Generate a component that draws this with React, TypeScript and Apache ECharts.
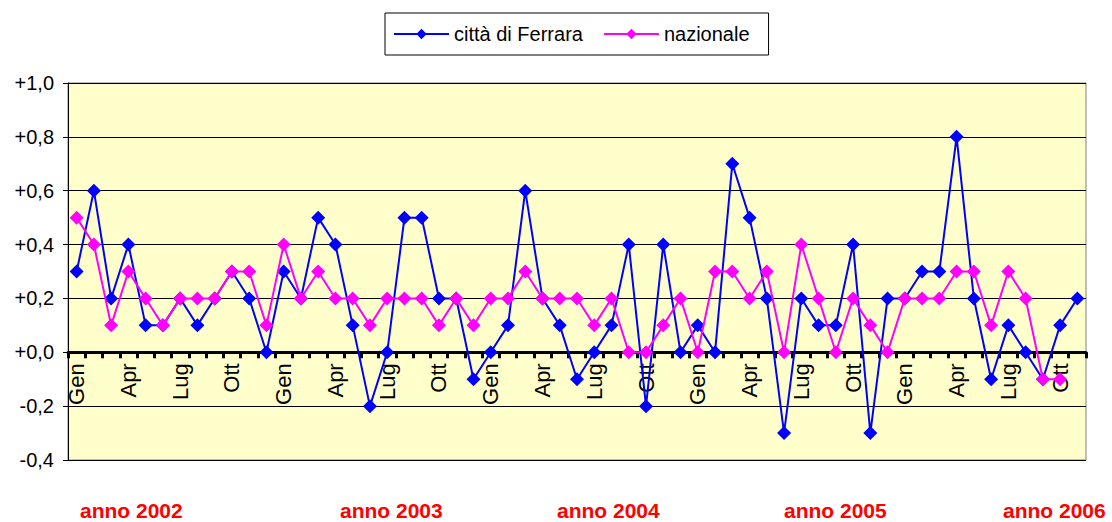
import React, { useEffect, useRef } from "react";
import * as echarts from "echarts";

const monthNames = ["Gen", "Feb", "Mar", "Apr", "Mag", "Giu", "Lug", "Ago", "Set", "Ott", "Nov", "Dic"];
const years = [2002, 2003, 2004, 2005, 2006];
const monthsIn2006 = 11;

const ferrara = [
  0.3, 0.6, 0.2, 0.4, 0.1, 0.1, 0.2, 0.1, 0.2, 0.3, 0.2, 0.0,
  0.3, 0.2, 0.5, 0.4, 0.1, -0.2, 0.0, 0.5, 0.5, 0.2, 0.2, -0.1,
  0.0, 0.1, 0.6, 0.2, 0.1, -0.1, 0.0, 0.1, 0.4, -0.2, 0.4, 0.0,
  0.1, 0.0, 0.7, 0.5, 0.2, -0.3, 0.2, 0.1, 0.1, 0.4, -0.3, 0.2,
  0.2, 0.3, 0.3, 0.8, 0.2, -0.1, 0.1, 0.0, -0.1, 0.1, 0.2,
];

const nazionale = [
  0.5, 0.4, 0.1, 0.3, 0.2, 0.1, 0.2, 0.2, 0.2, 0.3, 0.3, 0.1,
  0.4, 0.2, 0.3, 0.2, 0.2, 0.1, 0.2, 0.2, 0.2, 0.1, 0.2, 0.1,
  0.2, 0.2, 0.3, 0.2, 0.2, 0.2, 0.1, 0.2, 0.0, 0.0, 0.1, 0.2,
  0.0, 0.3, 0.3, 0.2, 0.3, 0.0, 0.4, 0.2, 0.0, 0.2, 0.1, 0.0,
  0.2, 0.2, 0.2, 0.3, 0.3, 0.1, 0.3, 0.2, -0.1, -0.1, null,
];

const yearLabels = ["anno 2002", "anno 2003", "anno 2004", "anno 2005", "anno 2006"];
const yearLabelX = [80, 340, 557, 784, 1003];

const yMin = -0.4;
const yMax = 1.0;

const categories: string[] = [];
years.forEach((y, i) => {
  const n = i === years.length - 1 ? monthsIn2006 : 12;
  for (let m = 0; m < n; m++) categories.push(monthNames[m] + " " + y);
});

const FONT = "Liberation Sans, Arial, sans-serif";
const GRID_TOP = 83;
const GRID_BOTTOM = 62;
const H = 522;

export default function App() {
  const ref = useRef<HTMLDivElement>(null);
  useEffect(() => {
    if (!ref.current) return;
    const chart = echarts.init(ref.current, undefined, { renderer: "svg" });
    const plotH = H - GRID_TOP - GRID_BOTTOM;
    const zeroOffset = -((0 - yMin) / (yMax - yMin)) * plotH;
    chart.setOption({
      animation: false,
      textStyle: { fontFamily: FONT },
      legend: {
        left: 385,
        top: 13,
        orient: "horizontal",
        backgroundColor: "#ffffff",
        borderColor: "#000000",
        borderWidth: 1,
        padding: [11, 19, 11, 8],
        itemWidth: 55,
        itemHeight: 13,
        itemGap: 20,
        textStyle: { fontSize: 20, color: "#000", fontFamily: FONT },
        data: ["città di Ferrara", "nazionale"],
      },
      grid: {
        left: 68,
        right: 26,
        top: GRID_TOP,
        bottom: GRID_BOTTOM,
        show: true,
        backgroundColor: "#FFFFCC",
        borderColor: "#808080",
        borderWidth: 1,
        containLabel: false,
      },
      xAxis: {
        type: "category",
        data: categories,
        boundaryGap: true,
        offset: zeroOffset,
        axisLine: { onZero: false, lineStyle: { color: "#000", width: 3 } },
        axisTick: { show: true, interval: 0, length: 6, lineStyle: { color: "#000", width: 3 } },
        axisLabel: {
          interval: (index: number) => index % 3 === 0,
          rotate: 90,
          margin: 11,
          fontSize: 22,
          color: "#000",
          fontFamily: FONT,
          formatter: (v: string) => v.split(" ")[0],
        },
        splitLine: { show: false },
      },
      yAxis: {
        type: "value",
        min: yMin,
        max: yMax,
        interval: 0.2,
        axisLine: { show: true, lineStyle: { color: "#000", width: 1 } },
        axisTick: { show: true, length: 5, lineStyle: { color: "#000" } },
        axisLabel: {
          margin: 14,
          fontSize: 20,
          color: "#000",
          fontFamily: FONT,
          formatter: (v: number) => {
            const r = Math.round(v * 10) / 10;
            const s = Math.abs(r).toFixed(1).replace(".", ",");
            return (r < 0 ? "-" : "+") + s;
          },
        },
        splitLine: { show: true, lineStyle: { color: "#000", width: 1 } },
      },
      series: [
        {
          name: "città di Ferrara",
          type: "line",
          data: ferrara,
          symbol: "diamond",
          symbolSize: 14,
          showAllSymbol: true,
          itemStyle: { color: "#0000FF" },
          lineStyle: { color: "#0000FF", width: 2 },
          z: 3,
        },
        {
          name: "nazionale",
          type: "line",
          data: nazionale,
          symbol: "diamond",
          symbolSize: 14,
          showAllSymbol: true,
          itemStyle: { color: "#FF00FF" },
          lineStyle: { color: "#FF00FF", width: 2 },
          z: 4,
        },
      ],
      graphic: yearLabels.map((t, i) => ({
        type: "text",
        left: yearLabelX[i],
        top: 500,
        style: {
          text: t,
          fill: "#FF0000",
          font: "bold 21px " + FONT,
        },
      })),
    });
    return () => chart.dispose();
  }, []);
  return (
    <div
      ref={ref}
      style={{ position: "absolute", left: 0, top: 0, width: 1112, height: 522 }}
    />
  );
}
